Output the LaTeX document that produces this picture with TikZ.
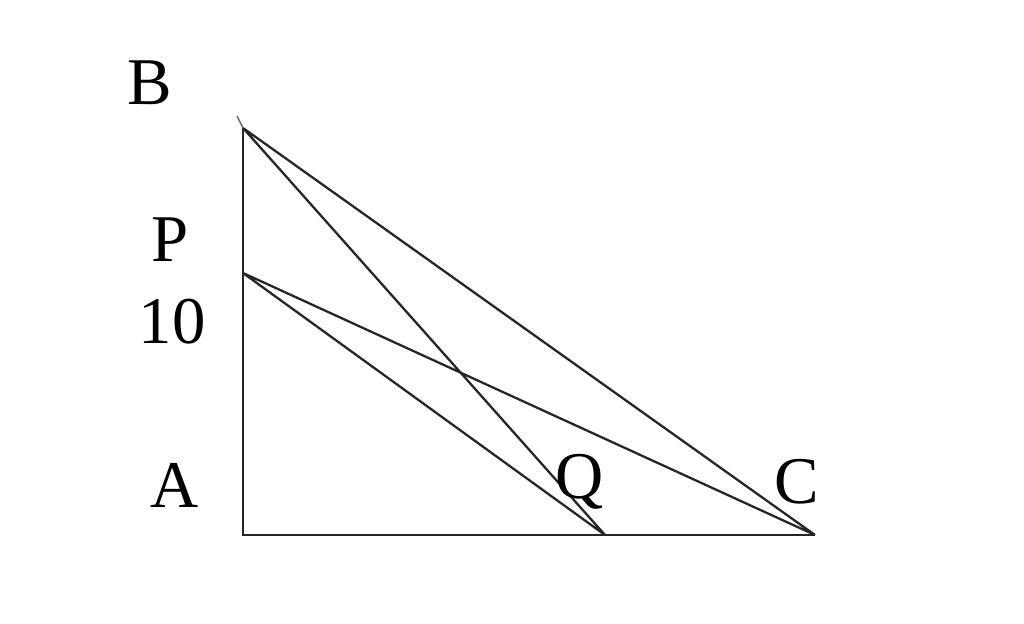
\documentclass[tikz,border=0pt]{standalone}
\usepackage{fontspec}
\setmainfont{Liberation Serif}
\usetikzlibrary{calc}
\begin{document}
\begin{tikzpicture} [x=.02cm, y=.02cm, lbl/.style={font=\fontsize{38}{40}\selectfont, inner sep=0}]
\useasboundingbox (0,0) rectangle (1024,623);
\coordinate (A) at (243,88);
\coordinate (B) at (243,495);
\coordinate (P) at (243,350);
\coordinate (Q) at (605,88);
\coordinate (C) at (815,88);
\coordinate (Bt) at (237,507);
\draw[black!85, line width=1.7pt] (B)--(A)--(C);
\draw[black!85, line width=1.3pt] (B)--(C) (B)--(Q) (P)--(C) (P)--(Q);
\draw[black!60, line width=.8pt] (Bt)--(B);
\node[lbl] (lB) at (150,540) {B};
\node[lbl] (lP) at (170,383) {P};
\node[lbl] (l10) at (172,301) {10};
\node[lbl] (lA) at (175,138) {A};
\node[lbl] (lQ) at (580,141) {Q};
\node[lbl] (lC) at (797,141) {C};
\end{tikzpicture}
\end{document}
